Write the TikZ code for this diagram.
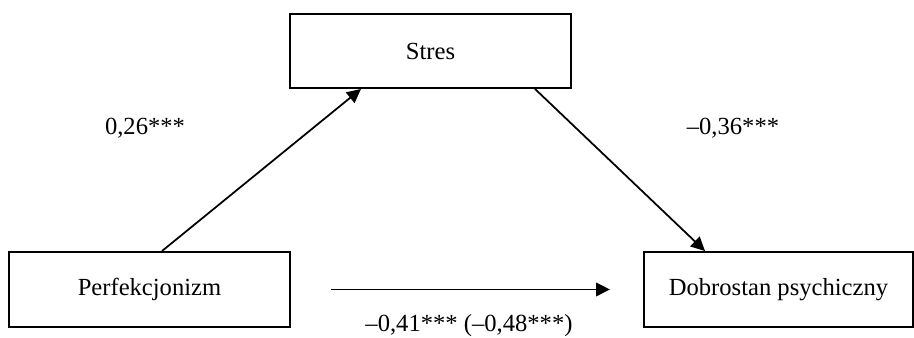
\documentclass[tikz,border=0pt]{standalone}
\usepackage{fontspec}
\setmainfont{Liberation Serif}
\usepackage{tikz}
\usetikzlibrary{arrows.meta}
\tikzset{
  varnode/.style = {rectangle, draw=black, line width=1.1pt, inner sep=0pt,
    minimum width=5.62cm, minimum height=1.5cm,
    font=\fontsize{14}{17}\selectfont},% zmienna w modelu
  coef/.style = {inner sep=0pt, font=\fontsize{14}{17}\selectfont},% wspolczynnik
  path_a/.style = {line width=1pt,
    -{Triangle[length=2.8mm,width=2.7mm]}}% sciezka
}

\begin{document}
\begin{tikzpicture}
  \useasboundingbox (0,0) rectangle (18.28,6.76);
  \node [varnode, minimum height=1.48cm] (stres) at (8.61,5.74) {Stres};
  \node [varnode] (perf) at (2.99,0.97) {Perfekcjonizm};
  \node [varnode, minimum width=5.38cm] (dob) at (15.57,0.97) {Dobrostan psychiczny};
  \draw [path_a] ([xshift=2.5mm]perf.north) -- ([xshift=-13.9mm]stres.south);
  \draw [path_a] ([xshift=20.9mm]stres.south) -- ([xshift=-14.7mm]dob.north);
  \draw [path_a] ([xshift=8mm]perf.east) -- ([xshift=-6.6mm]dob.west);
  \node [coef] (a) at (2.9,4.2) {0,26***};
  \node [coef] (b) at (14.66,4.2) {–0,36***};
  \node [coef, anchor=base] (c) at (9.38,0.12) {–0,41*** (–0,48***)};
\end{tikzpicture}
\end{document}
